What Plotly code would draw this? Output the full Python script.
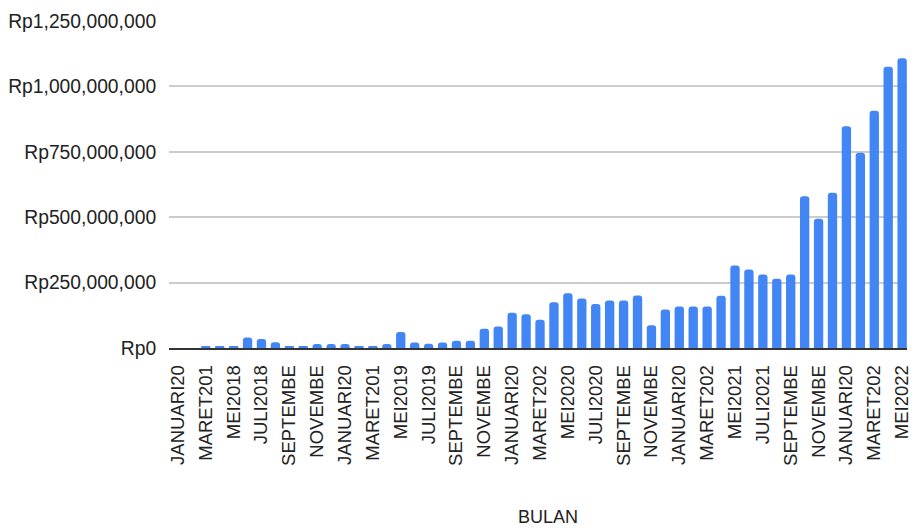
import plotly.graph_objects as go

months = ["JANUARI", "FEBRUARI", "MARET", "APRIL", "MEI", "JUNI", "JULI",
          "AGUSTUS", "SEPTEMBER", "OKTOBER", "NOVEMBER", "DESEMBER"]
categories = [f"{m}{y}" for y in (2018, 2019, 2020, 2021, 2022) for m in months][:53]

values = [
    0, 0, 6e6, 6e6, 6e6, 40e6, 34e6, 22e6, 7e6, 7e6, 15e6, 15e6,
    15e6, 7e6, 7e6, 15e6, 61e6, 21e6, 16e6, 21e6, 28e6, 28e6, 74e6, 82e6,
    135e6, 129e6, 108e6, 175e6, 209e6, 189e6, 168e6, 182e6, 182e6, 201e6, 87e6, 147e6,
    159e6, 159e6, 159e6, 200e6, 315e6, 300e6, 281e6, 265e6, 281e6, 580e6, 494e6, 593e6,
    848e6, 746e6, 907e6, 1075e6, 1108e6,
]

tick_labels = [
    "JANUARI20", "MARET201", "MEI2018", "JULI2018", "SEPTEMBE", "NOVEMBE",
    "JANUARI20", "MARET201", "MEI2019", "JULI2019", "SEPTEMBE", "NOVEMBE",
    "JANUARI20", "MARET202", "MEI2020", "JULI2020", "SEPTEMBE", "NOVEMBE",
    "JANUARI20", "MARET202", "MEI2021", "JULI2021", "SEPTEMBE", "NOVEMBE",
    "JANUARI20", "MARET202", "MEI2022",
]
tick_vals = categories[::2]

FONT = "Liberation Sans, Arial, sans-serif"

fig = go.Figure(go.Bar(
    x=categories, y=values,
    marker=dict(color="#4285F4", cornerradius=3, line=dict(width=0)),
))

fig.update_layout(
    width=912, height=529, autosize=False,
    margin=dict(l=169, r=0, t=21, b=181, pad=0),
    paper_bgcolor="white", plot_bgcolor="white",
    font=dict(family=FONT, size=19, color="#222222"),
    bargap=0.33,
    showlegend=False,
    annotations=[dict(
        text="BULAN", xref="paper", yref="paper", x=0.513, y=-0.517,
        xanchor="center", yanchor="middle", showarrow=False,
        font=dict(family=FONT, size=18, color="#222222"),
    )],
)

fig.update_xaxes(
    type="category", range=[-0.64, 52.35],
    tickmode="array", tickvals=tick_vals, ticktext=tick_labels,
    tickangle=-90, tickfont=dict(size=18.5),
    showgrid=False, showline=True, linecolor="#333333", linewidth=1.5,
    ticks="outside", ticklen=8, tickcolor="rgba(0,0,0,0)",
)
fig.update_yaxes(
    range=[0, 1.25e9], dtick=250e6, tick0=0,
    tickprefix="Rp", tickformat=",d", tickfont=dict(size=19.3),
    showgrid=True, gridcolor="#cccccc", gridwidth=1.5,
    zeroline=False, showline=False,
    ticks="outside", ticklen=8, tickcolor="rgba(0,0,0,0)",
)

clip_js = (
    "document.documentElement.style.overflow='hidden';"
    "document.body.style.margin='0';"
    "document.body.style.overflow='hidden';"
    "var gd=document.getElementById('{plot_id}');"
    "gd.style.overflow='hidden';"
    "gd.querySelectorAll('svg.main-svg').forEach(function(s){s.style.overflow='hidden';});"
)

fig.write_html(
    "out.html",
    config={"displayModeBar": False, "responsive": False},
    post_script=clip_js,
)
